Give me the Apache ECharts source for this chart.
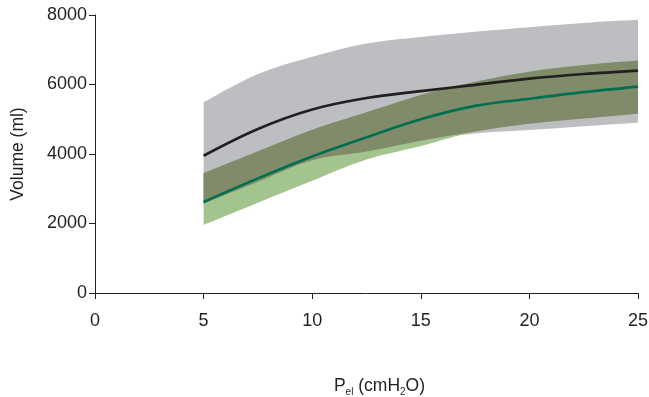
<!DOCTYPE html>
<html>
<head>
<meta charset="utf-8">
<script src="https://cdn.jsdelivr.net/npm/echarts@6/dist/echarts.min.js"></script>
<style>
  html, body { margin: 0; padding: 0; background: #fff; }
  #chart { width: 649px; height: 397px; }
</style>
</head>
<body>
<div id="chart"></div>
<script>
// Elastic recoil pressure (cmH2O) vs lung volume (ml): two groups, mean curve with range band
const pressureAxis = [0, 2.5, 5, 7.5, 10, 12.5, 15, 17.5, 20, 22.5, 25];
const pressure  = [5, 7.5, 10, 12.5, 15, 17.5, 20, 22.5, 25];
const blackMean = [3950, 4720, 5280, 5610, 5810, 5990, 6170, 6300, 6400];
const blackLo   = [2570, 3200, 3820, 4070, 4380, 4590, 4690, 4800, 4900];
const blackHi   = [5480, 6300, 6800, 7180, 7370, 7520, 7650, 7770, 7860];
const greenMean = [2620, 3300, 3930, 4480, 5000, 5385, 5590, 5780, 5940];
const greenLo   = [1960, 2600, 3230, 3840, 4230, 4650, 4870, 5020, 5160];
const greenHi   = [3450, 4080, 4700, 5200, 5700, 6080, 6370, 6560, 6690];
const xTicks = [0, 5, 10, 15, 20, 25];
const yTicks = [0, 2000, 4000, 6000, 8000];

const INK = '#231f20';
const GRAY = '#bdbec2';
const LIGHT_GREEN = '#a4c48e';
const OLIVE = '#808b6a';
const FONT = 'Liberation Sans, Arial, sans-serif';
const SMOOTH = 0.35;
const TICK_LEN = 6;

// where the two ranges overlap
const overlapLo = pressure.map((_, i) => Math.max(blackLo[i], greenLo[i]));
const overlapHi = pressure.map((_, i) => Math.min(blackHi[i], greenHi[i]));

// place measured values on the full pressure axis (no data below 5 cmH2O)
const onAxis = (ys) => pressureAxis.map((p) => {
  const i = pressure.indexOf(p);
  return i < 0 ? null : ys[i];
});

const isMajor = (idx) => xTicks.includes(pressureAxis[idx]);

function band(name, lo, hi, color) {
  return [
    {
      name: name + '-base', type: 'line', stack: name, data: onAxis(lo),
      symbol: 'none', smooth: SMOOTH, lineStyle: { opacity: 0 }, silent: true
    },
    {
      name: name, type: 'line', stack: name,
      data: onAxis(hi.map((v, i) => v - lo[i])),
      symbol: 'none', smooth: SMOOTH, lineStyle: { opacity: 0 },
      areaStyle: { color: color, opacity: 1 }, silent: true
    }
  ];
}

const chart = echarts.init(document.getElementById('chart'), null, { renderer: 'canvas' });
chart.setOption({
  animation: false,
  backgroundColor: '#fff',
  textStyle: { fontFamily: FONT, color: INK },
  grid: { left: 95, right: 11, top: 15, bottom: 104, outerBoundsMode: 'none', containLabel: false },
  xAxis: {
    type: 'category', boundaryGap: false,
    data: pressureAxis.map(String),
    axisLine: { show: true, onZero: false, lineStyle: { color: INK, width: 1 } },
    axisTick: { show: true, length: TICK_LEN, interval: (idx) => isMajor(idx), lineStyle: { color: INK, width: 1 } },
    splitLine: { show: false },
    axisLabel: {
      color: INK, fontSize: 18, margin: 19, interval: (idx) => isMajor(idx)
    },
    name: '{n|P}{s|el}{n| (cmH}{s|2}{n|O)}',
    nameLocation: 'middle', nameGap: 82,
    nameTextStyle: {
      padding: [0, 0, 0, 26],
      rich: {
        n: { fontSize: 17.5, color: INK, fontFamily: FONT },
        s: { fontSize: 10, color: INK, fontFamily: FONT, padding: [12, 0, 0, 0] }
      }
    }
  },
  yAxis: {
    type: 'value', min: 0, max: 8000, interval: 2000,
    axisLine: { show: true, lineStyle: { color: INK, width: 1 } },
    axisTick: { show: true, length: TICK_LEN, lineStyle: { color: INK } },
    splitLine: { show: false },
    axisLabel: {
      color: INK, fontSize: 18, margin: 8,
      formatter: (v) => yTicks.includes(v) ? String(v) : ''
    },
    name: 'Volume (ml)', nameLocation: 'middle', nameGap: 68, nameRotate: 90,
    nameTextStyle: { fontSize: 17.5, color: INK }
  },
  series: [
    ...band('blackRange', blackLo, blackHi, GRAY),
    ...band('greenRange', greenLo, greenHi, LIGHT_GREEN),
    ...band('overlap', overlapLo, overlapHi, OLIVE),
    {
      name: 'black', type: 'line', data: onAxis(blackMean), symbol: 'none', smooth: SMOOTH,
      lineStyle: { color: INK, width: 2.6 }
    },
    {
      name: 'green', type: 'line', data: onAxis(greenMean), symbol: 'none', smooth: SMOOTH,
      lineStyle: { color: '#006f4f', width: 2.6 }
    }
  ]
});
</script>
</body>
</html>
